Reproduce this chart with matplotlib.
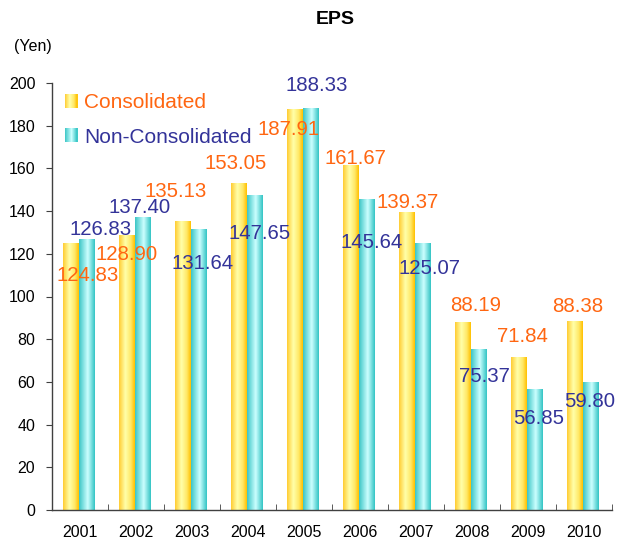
import numpy as np
import matplotlib
matplotlib.use("Agg")
import matplotlib.pyplot as plt
from matplotlib.colors import LinearSegmentedColormap
from matplotlib.patches import Rectangle
from matplotlib.legend_handler import HandlerBase

plt.rcParams['font.family'] = ['Liberation Sans', 'DejaVu Sans']

years = ['2001', '2002', '2003', '2004', '2005', '2006', '2007', '2008', '2009', '2010']
consolidated = [124.83, 128.90, 135.13, 153.05, 187.91, 161.67, 139.37, 88.19, 71.84, 88.38]
non_consolidated = [126.83, 137.40, 131.64, 147.65, 188.33, 145.64, 125.07, 75.37, 56.85, 59.80]
series_names = ['Consolidated', 'Non-Consolidated']
y_ticks = [0, 20, 40, 60, 80, 100, 120, 140, 160, 180, 200]

# label offsets (pixels, from bar top centre)
cons_off = [(17, -30), (0, -18), (-7, 32), (-3, 22), (-6, -19), (5, 8), (1, 12), (13, 18), (4, 22), (3, 17)]
non_off = [(14, 12), (-3, 11), (4, -33), (5, -37), (6, 24), (5, -41), (7, -24), (6, -25), (4, -28), (-1, -17)]

ORANGE = '#FF6611'
BLUE = '#333399'

cmap_y = LinearSegmentedColormap.from_list('yel', [(0, '#FFCC33'), (0.4, '#FFFFAA'), (0.75, '#FFE866'), (1, '#FFC000')])
cmap_c = LinearSegmentedColormap.from_list('cya', [(0, '#3CC6C6'), (0.55, '#CCFFFF'), (1, '#33C4C4')])

fig = plt.figure(figsize=(6.18, 5.41), dpi=100)
ax = fig.add_axes([52 / 618, 31 / 541, 560 / 618, 427 / 541])

x = np.arange(len(years))
w = 0.285
b1 = ax.bar(x - w / 2 - 0.02, consolidated, w, color='none', edgecolor='none')
b2 = ax.bar(x + w / 2 - 0.02, non_consolidated, w, color='none', edgecolor='none')

grad = np.linspace(0, 1, 64).reshape(1, -1)
for bars, cm in ((b1, cmap_y), (b2, cmap_c)):
    for p in bars:
        x0, y0 = p.get_x(), p.get_y()
        im = ax.imshow(grad, cmap=cm, aspect='auto', interpolation='bilinear',
                       extent=(x0, x0 + p.get_width(), y0, y0 + p.get_height()), zorder=2)
        im.set_clip_path(p)

for bars, vals, offs, col in ((b1, consolidated, cons_off, ORANGE), (b2, non_consolidated, non_off, BLUE)):
    for p, v, (dx, dy) in zip(bars, vals, offs):
        ax.annotate(f'{v:.2f}', (p.get_x() + p.get_width() / 2, p.get_height()),
                    xytext=(dx, dy), textcoords='offset pixels', ha='center', va='center_baseline',
                    fontsize=14.7, color=col, zorder=5)

ax.set_xlim(-0.5, len(years) - 0.5)
ax.set_ylim(0, 200)
ax.set_yticks(y_ticks)
ax.set_yticklabels([str(t) for t in y_ticks], fontsize=11.5)
ax.set_xticks(x)
ax.set_xticklabels(years, fontsize=11.5)
ax.set_xticks(np.arange(len(years) + 1) - 0.5, minor=True)
ax.tick_params(axis='x', which='major', length=0, pad=11)
ax.tick_params(axis='x', which='minor', length=4, direction='in', color='#404040')
ax.tick_params(axis='y', length=4, direction='out', pad=8, color='#404040')
for s in ('top', 'right'):
    ax.spines[s].set_visible(False)
for s in ('left', 'bottom'):
    ax.spines[s].set_color('#404040')
    ax.spines[s].set_linewidth(1.0)


class GradHandler(HandlerBase):
    def __init__(self, cmap):
        super().__init__()
        self.cmap = cmap

    def create_artists(self, legend, orig_handle, xdescent, ydescent, width, height, fontsize, trans):
        n = 12
        arts = []
        for i in range(n):
            r = Rectangle((-xdescent + width * i / n, -ydescent), width / n + 0.3, height,
                          facecolor=self.cmap((i + 0.5) / n), edgecolor='none', transform=trans)
            arts.append(r)
        return arts


h1 = Rectangle((0, 0), 1, 1)
h2 = Rectangle((0, 0), 1, 1)
leg = ax.legend([h1, h2], series_names, handler_map={h1: GradHandler(cmap_y), h2: GradHandler(cmap_c)},
                loc='upper left', bbox_to_anchor=(65 / 618, 448 / 541), bbox_transform=fig.transFigure,
                frameon=False, fontsize=15, handlelength=0.6, handleheight=0.65, handletextpad=0.3,
                labelspacing=0.75, borderpad=0, borderaxespad=0)
for t, c in zip(leg.get_texts(), (ORANGE, BLUE)):
    t.set_color(c)

fig.text(335 / 618, 1 - 20 / 541, 'EPS', ha='center', va='center', fontsize=14, fontweight='bold')
fig.text(33 / 618, 1 - 46 / 541, '(Yen)', ha='center', va='center', fontsize=11.5)

fig.savefig('out.png', dpi=100)
